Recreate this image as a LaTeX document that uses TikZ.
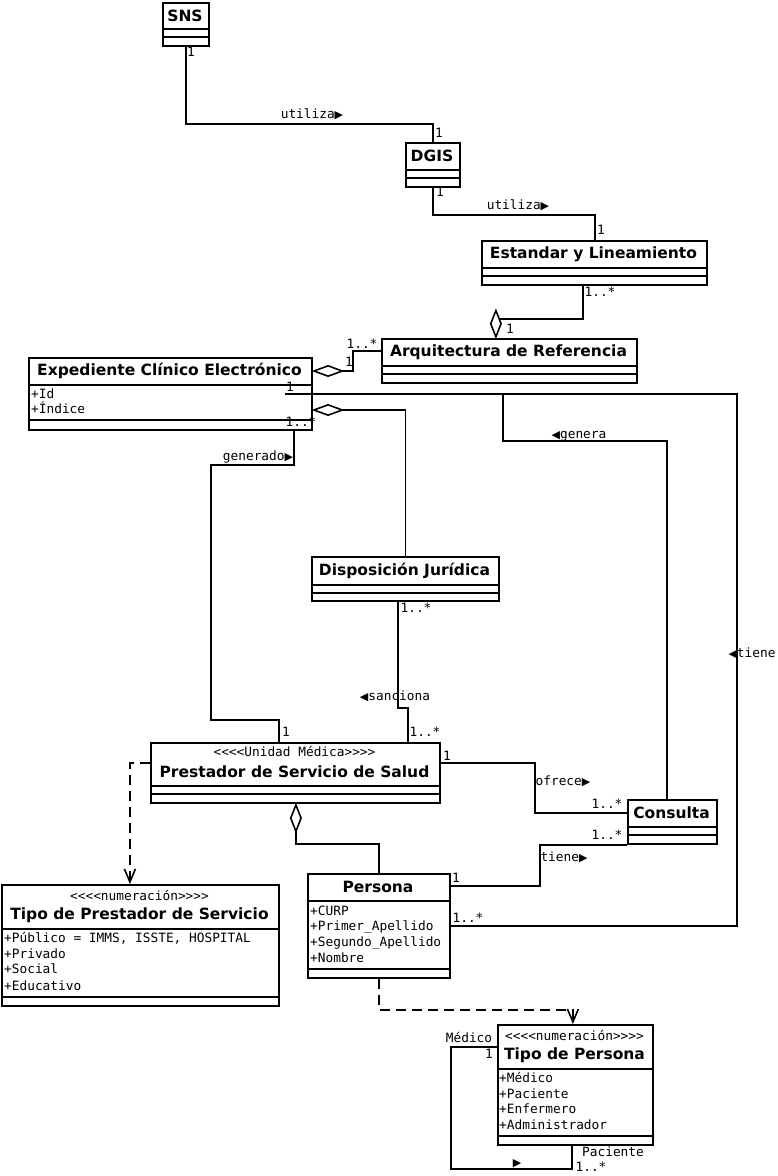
\documentclass[tikz,border=0pt]{standalone}
\usepackage{fontspec}
\setmainfont{DejaVu Sans}
\newfontfamily\umlmono{DejaVu Sans Mono}
\usetikzlibrary{arrows.meta,shapes.geometric,backgrounds}
\newcommand{\rtri}{{\rmfamily\fontsize{11}{11}\selectfont\char"25B6}}
\newcommand{\ltri}{{\rmfamily\fontsize{11}{11}\selectfont\char"25C0}}
\newcommand{\compline}[2]{\draw[boxline] ([yshift=-#2pt]#1.north west) -- ([yshift=-#2pt]#1.north east);}
\begin{document}
\begin{tikzpicture}[x=1pt,y=-1pt]
        \tikzstyle{boxline}=[line width=1.8pt]
        \tikzstyle{classbox}=[draw, boxline, anchor=north west, inner sep=0pt]
        \tikzstyle{titletext}=[font=\fontsize{15.5}{18}\selectfont\bfseries, inner sep=0pt]
        \tikzstyle{monotext}=[font=\umlmono\fontsize{12.8}{16}\selectfont, inner sep=0pt, text height=9pt, text depth=2.5pt]
        \tikzstyle{attr}=[monotext, anchor=west]
        \tikzstyle{lbl}=[monotext]
        \tikzstyle{assoc}=[line width=1.6pt]
        \tikzstyle{depend}=[line width=1.6pt, dash pattern=on 10pt off 6pt, -{Straight Barb[length=13pt, width=11pt]}]
        \tikzstyle{aggv}=[draw, shape=diamond, line width=1.6pt, fill=white, inner sep=0pt, minimum width=11pt, minimum height=27pt]
        \tikzstyle{aggh}=[draw, shape=diamond, line width=1.6pt, fill=white, inner sep=0pt, minimum width=29pt, minimum height=11pt]
        \useasboundingbox (0,0) rectangle (777,1176);

        % classes
        \node[classbox, minimum width=46pt, minimum height=43pt] (sns) at (162,2) {};
        \node[titletext] (snsT) at (185,16) {SNS};
        \compline{sns}{27} \compline{sns}{35}

        \node[classbox, minimum width=54pt, minimum height=44pt] (dgis) at (405,142) {};
        \node[titletext] (dgisT) at (432,156) {DGIS};
        \compline{dgis}{28} \compline{dgis}{36}

        \node[classbox, minimum width=225pt, minimum height=44pt] (est) at (481,240) {};
        \node[titletext] (estT) at (593.5,254) {Estandar y Lineamiento};
        \compline{est}{28} \compline{est}{36}

        \node[classbox, minimum width=255pt, minimum height=44pt] (arq) at (381,338) {};
        \node[titletext] (arqT) at (508.5,352) {Arquitectura de Referencia};
        \compline{arq}{28} \compline{arq}{36}

        \node[classbox, minimum width=283pt, minimum height=72pt] (exp) at (28,357) {};
        \node[titletext] (expT) at (169.5,371) {Expediente Clínico Electrónico};
        \compline{exp}{28} \compline{exp}{63}
        \node[attr] (expA1) at (31,395) {+Id};
        \node[attr] (expA2) at (31,410) {+Índice};

        \node[classbox, minimum width=187pt, minimum height=44pt] (disp) at (311,556) {};
        \node[titletext] (dispT) at (404.5,571) {Disposición Jurídica};
        \compline{disp}{29} \compline{disp}{37}

        \node[classbox, minimum width=289pt, minimum height=60pt] (prest) at (150,742) {};
        \node[monotext] (prestS) at (294.5,753) {<<<<Unidad Médica>>>>};
        \node[titletext] (prestT) at (294.5,772) {Prestador de Servicio de Salud};
        \compline{prest}{44} \compline{prest}{52}

        \node[classbox, minimum width=89pt, minimum height=44pt] (cons) at (627,799) {};
        \node[titletext] (consT) at (671.5,813) {Consulta};
        \compline{cons}{28} \compline{cons}{36}

        \node[classbox, minimum width=142pt, minimum height=104pt] (pers) at (307,873) {};
        \node[titletext] (persT) at (378,887) {Persona};
        \compline{pers}{28} \compline{pers}{96}
        \node[attr] (persA1) at (310,912) {+CURP};
        \node[attr] (persA2) at (310,927) {+Primer\_Apellido};
        \node[attr] (persA3) at (310,943) {+Segundo\_Apellido};
        \node[attr] (persA4) at (310,959) {+Nombre};

        \node[classbox, minimum width=277pt, minimum height=121pt] (tprest) at (1,884) {};
        \node[monotext] (tprestS) at (139.5,897) {<<<<numeración>>>>};
        \node[titletext] (tprestT) at (139.5,915) {Tipo de Prestador de Servicio};
        \compline{tprest}{45} \compline{tprest}{113}
        \node[attr] (tprestA1) at (4,939) {+Público = IMMS, ISSTE, HOSPITAL};
        \node[attr] (tprestA2) at (4,955) {+Privado};
        \node[attr] (tprestA3) at (4,970) {+Social};
        \node[attr] (tprestA4) at (4,987) {+Educativo};

        \node[classbox, minimum width=155pt, minimum height=120pt] (tpers) at (497,1024) {};
        \node[monotext] (tpersS) at (574.5,1037) {<<<<numeración>>>>};
        \node[titletext] (tpersT) at (574.5,1055) {Tipo de Persona};
        \compline{tpers}{45} \compline{tpers}{112}
        \node[attr] (tpersA1) at (499,1079) {+Médico};
        \node[attr] (tpersA2) at (499,1095) {+Paciente};
        \node[attr] (tpersA3) at (499,1110) {+Enfermero};
        \node[attr] (tpersA4) at (499,1126) {+Administrador};

        % diamonds for the aggregations
        \node[aggv, anchor=south] (dArq) at ([xshift=-13.5pt]arq.north) {};
        \node[aggh, anchor=west] (dExpA) at ([yshift=-14pt]exp.north east) {};
        \node[aggh, anchor=west] (dExpD) at ([yshift=-53pt]exp.north east) {};
        \node[aggv, anchor=north] (dPrest) at ([xshift=0.5pt]prest.south) {};

        \begin{scope}[on background layer]
        % associations
        \draw[assoc] (sns.south) -- ++(0,77) -| (dgis.north);
        \draw[assoc] (dgis.south) -- ++(0,27) -| ([xshift=0.5pt]est.north);
        \draw[assoc] ([xshift=-11.5pt]est.south) -- ++(0,33) -| (dArq.center);
        \draw[assoc] ([yshift=-13pt]arq.north west) -- ++(-28,0) |- (dExpA.center);
        \draw[assoc] (disp.north) |- (dExpD.center);
        \draw[assoc] ([xshift=-28pt,yshift=-37pt]exp.north east) -- ++(452,0) |- ([yshift=-53pt]pers.north east);
        \draw[assoc] ([xshift=-5.5pt]cons.north) -- ++(0,-358) -- ++(-164,0) -- ++(0,-47);
        \draw[assoc] ([xshift=-19pt]exp.south east) -- ++(0,34) -- ++(-83,0) -- ++(0,255) -| ([xshift=-16.5pt]prest.north);
        \draw[assoc] ([xshift=-7.5pt]disp.south) -- ++(0,106) -| ([xshift=-33pt]prest.north east);
        \draw[assoc] ([yshift=-21pt]prest.north east) -- ++(94,0) |- ([yshift=-14pt]cons.north west);
        \draw[assoc] ([yshift=-13pt]pers.north east) -- ++(89,0) |- (cons.south west);
        \draw[assoc] (pers.north) -- ++(0,-29) -| (dPrest.center);
        \draw[assoc] ([yshift=-23pt]tpers.north west) -- ++(-46,0) -- ++(0,122) -| ([xshift=-3.5pt]tpers.south);

        % dependencies
        \draw[depend] ([yshift=-21pt]prest.north west) -| ([xshift=-10.5pt]tprest.north);
        \draw[depend] (pers.south) -- ++(0,31) -| ([xshift=-2.5pt]tpers.north);
        \end{scope}

        % labels
        \node[lbl] (m1) at (191,53) {1};
        \node[lbl] (r1) at (312,115) {utiliza\rtri};
        \node[lbl] (m2) at (439,134) {1};
        \node[lbl] (m3) at (440,193) {1};
        \node[lbl] (r2) at (518,206) {utiliza\rtri};
        \node[lbl] (m4) at (601,231) {1};
        \node[lbl] (m5) at (600,293) {1..*};
        \node[lbl] (m6) at (510,330) {1};
        \node[lbl] (m7) at (362,345) {1..*};
        \node[lbl] (m8) at (349,363) {1};
        \node[lbl] (m9) at (290,388) {1};
        \node[lbl] (m10) at (301,423) {1..*};
        \node[lbl] (r3) at (258,457) {generado\rtri};
        \node[lbl] (r4) at (579,435) {\ltri genera};
        \node[lbl] (r5) at (752,654) {\ltri tiene};
        \node[lbl] (m11) at (416,609) {1..*};
        \node[lbl] (r6) at (395,697) {\ltri sanciona};
        \node[lbl] (m12) at (425,733) {1..*};
        \node[lbl] (m13) at (286,733) {1};
        \node[lbl] (m14) at (447,757) {1};
        \node[lbl] (r7) at (563,782) {ofrece\rtri};
        \node[lbl] (m15) at (607,805) {1..*};
        \node[lbl] (m16) at (607,836) {1..*};
        \node[lbl] (r8) at (564,858) {tiene\rtri};
        \node[lbl] (m17) at (456,879) {1};
        \node[lbl] (m18) at (468,919) {1..*};
        \node[lbl] (m19) at (469,1039) {Médico};
        \node[lbl] (m20) at (489,1055) {1};
        \node[lbl] (r9) at (517,1163) {\rtri};
        \node[lbl] (m21) at (613,1153) {Paciente};
        \node[lbl] (m22) at (591,1168) {1..*};
\end{tikzpicture}
\end{document}
